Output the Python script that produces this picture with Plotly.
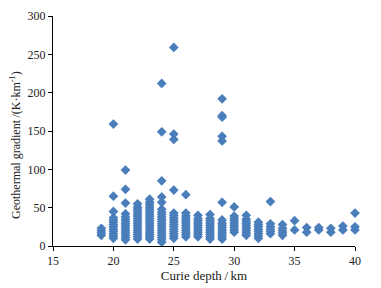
import plotly.graph_objects as go

# Curie depth (km) and the geothermal gradient values read at each depth
depth_19 = [14, 17, 20, 23]
depth_20 = [10, 13, 16, 19, 22, 25, 28, 31, 34, 37, 45, 65, 159]
depth_21 = [8, 11, 14, 17, 20, 23, 26, 29, 32, 35, 38, 42, 56, 74, 99]
depth_22 = [9, 12, 15, 18, 21, 24, 27, 30, 33, 36, 39, 42, 45, 48, 51, 55]
depth_23 = [9, 12, 15, 18, 21, 24, 27, 30, 33, 36, 39, 42, 45, 48, 51, 54, 57, 61]
depth_24 = [5, 8, 11, 14, 17, 20, 23, 26, 29, 32, 35, 38, 41, 44, 48, 57, 64, 85, 149, 212]
depth_25 = [10, 13, 16, 19, 22, 25, 28, 31, 34, 37, 40, 43, 73, 139, 146, 259]
depth_26 = [12, 15, 18, 21, 24, 27, 30, 33, 36, 39, 43, 67]
depth_27 = [12, 15, 18, 21, 24, 27, 30, 33, 36, 40]
depth_28 = [9, 12, 15, 18, 21, 24, 27, 30, 33, 36, 41]
depth_29 = [9, 12, 15, 18, 21, 24, 27, 30, 34, 57, 137, 143, 168, 170, 192]
depth_30 = [18, 21, 24, 27, 30, 33, 36, 39, 51]
depth_31 = [14, 17, 20, 23, 26, 29, 32, 35, 40]
depth_32 = [10, 13, 16, 19, 22, 25, 28, 31]
depth_33 = [16, 19, 22, 25, 29, 58]
depth_34 = [14, 17, 20, 23, 28]
depth_35 = [21, 33]
depth_36 = [18, 24]
depth_37 = [21, 24]
depth_38 = [18, 23]
depth_39 = [21, 26]
depth_40 = [21, 25, 43]

columns = {
    19: depth_19, 20: depth_20, 21: depth_21, 22: depth_22, 23: depth_23,
    24: depth_24, 25: depth_25, 26: depth_26, 27: depth_27, 28: depth_28,
    29: depth_29, 30: depth_30, 31: depth_31, 32: depth_32, 33: depth_33,
    34: depth_34, 35: depth_35, 36: depth_36, 37: depth_37, 38: depth_38,
    39: depth_39, 40: depth_40,
}

x_ticks = [15, 20, 25, 30, 35, 40]
y_ticks = [0, 50, 100, 150, 200, 250, 300]

xs, ys = [], []
for d, vals in columns.items():
    for v in vals:
        xs.append(d)
        ys.append(v)

font = "Liberation Serif, Times New Roman, serif"

fig = go.Figure(go.Scatter(
    x=xs, y=ys, mode="markers",
    marker=dict(symbol="diamond", size=7.5, color="#4a7ebb", line=dict(width=0)),
    showlegend=False, cliponaxis=False,
))

# page body has an 8px default margin, so margins are offset to compensate
fig.update_layout(
    width=381, height=288,
    margin=dict(l=45, r=34, t=8, b=50),
    paper_bgcolor="white", plot_bgcolor="white",
    font=dict(family=font, size=12, color="#222"),
)
fig.update_xaxes(
    range=[15, 40], tickvals=x_ticks, showgrid=False, zeroline=False,
    showline=True, linecolor="black", linewidth=1, automargin=False,
    ticks="outside", ticklen=4, tickcolor="black",
    title=dict(text="Curie depth\u2009/\u2009km", standoff=3, font=dict(size=13)),
)
fig.update_yaxes(
    range=[0, 300], tickvals=y_ticks, showgrid=False, zeroline=False,
    showline=True, linecolor="black", linewidth=1, automargin=False,
    ticks="outside", ticklen=4, tickcolor="black",
)
fig.add_annotation(
    text="Geothermal gradient\u2009/(K·km<sup>-1</sup>)",
    xref="paper", yref="paper", x=-0.122, y=0.44,
    xanchor="center", yanchor="middle", textangle=-90, showarrow=False,
    font=dict(family=font, size=12, color="#222"),
)

fig.write_html("out.html")
